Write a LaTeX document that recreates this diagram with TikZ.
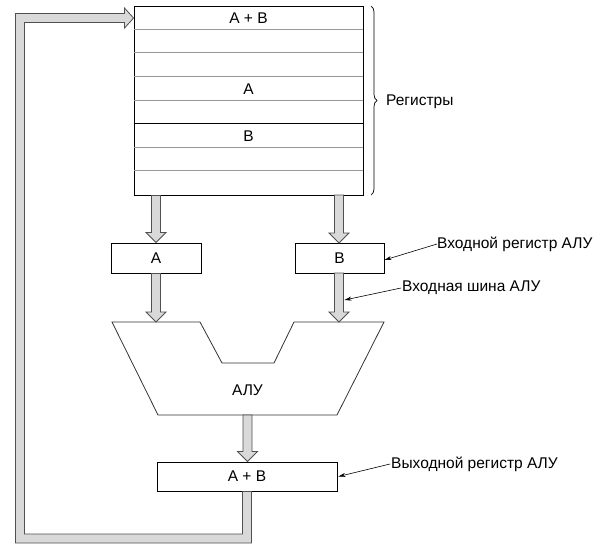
\documentclass[tikz,border=0pt]{standalone}
\usepackage{fontspec}
\setmainfont{Liberation Sans}
\usetikzlibrary{calc,decorations.pathreplacing,arrows.meta}
\definecolor{fatfill}{HTML}{D9D9D9}
\definecolor{fatline}{HTML}{505050}
\definecolor{rowline}{HTML}{999999}
\tikzset{
  box/.style={draw=black, line width=0.9pt, fill=white, inner sep=0pt, font=\fontsize{15.5}{18}\selectfont},
  fat/.style={draw=fatline, fill=fatfill, line width=0.8pt, line join=miter},
  lbl/.style={anchor=west, inner sep=0pt, font=\fontsize{15.5}{18}\selectfont},
  txt/.style={inner sep=0pt, font=\fontsize{15.5}{18}\selectfont},
  pointer/.style={draw=black, line width=0.6pt, -{Stealth[length=7pt,width=4pt]}}
}
\newcommand\fatv[2]{%
  \draw[fat] let \p1=#1, \p2=#2 in
    (\x1-4.5pt,\y1) -- (\x1-4.5pt,\y2+10pt) -- (\x1-10pt,\y2+10pt) -- (\x1,\y2)
    -- (\x1+10pt,\y2+10pt) -- (\x1+4.5pt,\y2+10pt) -- (\x1+4.5pt,\y1) -- cycle;}
\begin{document}
\begin{tikzpicture}[x=1pt,y=-1pt]
\useasboundingbox (0,0) rectangle (607,552);
% register file
\node[box, minimum width=229pt, minimum height=189pt] (regs) at (248.5,100.5) {};
\foreach \i in {1,2,3,4,6,7} {
  \draw[rowline, line width=0.9pt] ($(regs.north west)+(0.5pt,-\i*23.625pt)$) -- ($(regs.north east)+(-0.5pt,-\i*23.625pt)$);
}
\draw[black, line width=0.9pt] ($(regs.north west)+(0,-5*23.625pt)$) -- ($(regs.north east)+(0,-5*23.625pt)$);
\node[txt] (r1) at (248.5,18) {A + B};
\node[txt] (r4) at (248.5,89) {A};
\node[txt] (r6) at (248.5,136) {B};
% brace
\draw[line width=0.7pt, decorate, decoration={brace, amplitude=6pt}] (371,6) -- (371,195);
\node[lbl] (lregs) at (386,102) {Регистры};
% input registers
\node[box, minimum width=90pt, minimum height=30pt] (A) at (156,258) {A};
\node[box, minimum width=89pt, minimum height=30pt] (B) at (339.5,258) {B};
% ALU
\coordinate (alu1) at (112,322);
\coordinate (alu2) at (200,322);
\coordinate (alu3) at (222,363);
\coordinate (alu4) at (274,363);
\coordinate (alu5) at (294,322);
\coordinate (alu6) at (384,322);
\coordinate (alu7) at (337,415);
\coordinate (alu8) at (158,415);
\draw[draw=black!80, line width=0.8pt, fill=white] (alu1) -- (alu2) -- (alu3) -- (alu4) -- (alu5) -- (alu6) -- (alu7) -- (alu8) -- cycle;
\node[txt] (alu) at (247.5,390) {АЛУ};
% output register
\node[box, minimum width=180pt, minimum height=29pt] (out) at (247,476.5) {A + B};
% fat arrows
\fatv{(A.north |- regs.south)}{(A.north)}
\fatv{(339,195)}{(339,243)}
\fatv{(A.south)}{(156,322)}
\fatv{(339,273)}{(339,322)}
\fatv{(247.5,415)}{(out.north)}
% feedback
\coordinate (fbc) at (20,538.5);
\draw[fat] let \p1=(out.south), \p2=(regs.north west), \p3=(fbc) in
  (\x1-4.5pt,\y1) -- (\x1-4.5pt,\y3+4.5pt) -- (\x3+4.5pt,\y3+4.5pt)
  -- (\x3+4.5pt,\y2-17pt) -- (\x2-9pt,\y2-17pt) -- (\x2-9pt,\y2-22.5pt)
  -- (\x2,\y2-12.5pt) -- (\x2-9pt,\y2-2.5pt) -- (\x2-9pt,\y2-8pt)
  -- (\x3-4.5pt,\y2-8pt) -- (\x3-4.5pt,\y3-4.5pt) -- (\x1+4.5pt,\y3-4.5pt)
  -- (\x1+4.5pt,\y1) -- cycle;
% labels
\node[lbl] (linreg) at (437,244) {Входной регистр АЛУ};
\draw[pointer] (linreg.west) -- ([yshift=-2pt]B.east);
\coordinate (busB) at (344.5,300);
\node[lbl] (lbus) at (402,288) {Входная шина АЛУ};
\draw[pointer] ([xshift=-1pt]lbus.west) -- (busB);
\node[lbl] (lout) at (391,464) {Выходной регистр АЛУ};
\draw[pointer] ([xshift=-1pt]lout.west) -- ([xshift=1pt]out.east);
\end{tikzpicture}
\end{document}
